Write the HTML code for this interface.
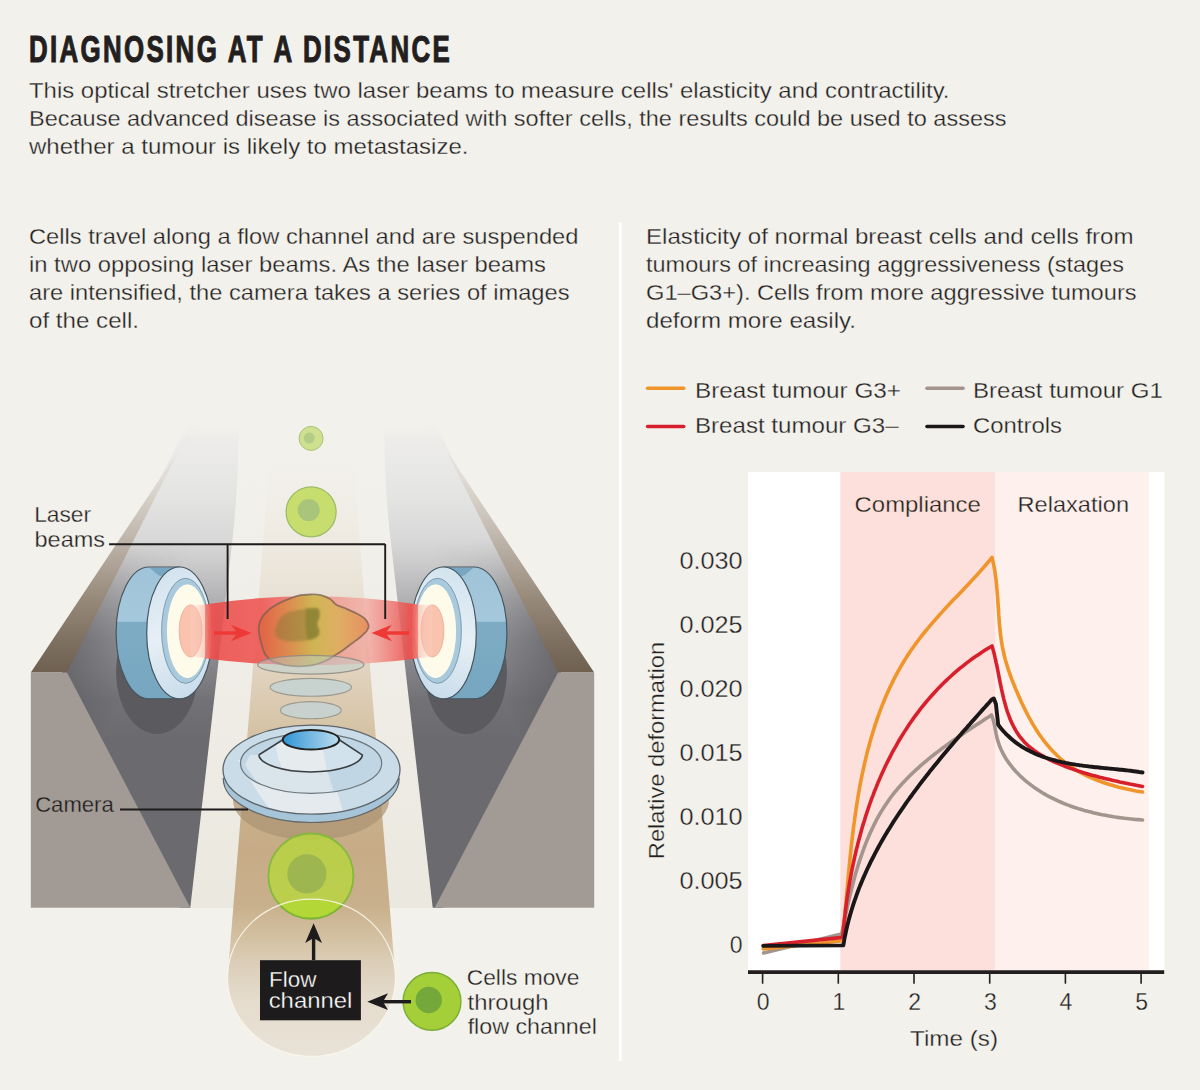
<!DOCTYPE html>
<html><head><meta charset="utf-8">
<style>
html,body{margin:0;padding:0;background:#f3f1ec;}
body{width:1200px;height:1090px;overflow:hidden;position:relative;font-family:"Liberation Sans",sans-serif;}
svg{position:absolute;left:0;top:0;}
text{font-family:"Liberation Sans",sans-serif;fill:#231f20;}
</style></head><body>
<svg width="1200" height="1090" viewBox="0 0 1200 1090">
<defs>
<filter id="blur1" x="-20%" y="-20%" width="140%" height="140%"><feGaussianBlur stdDeviation="1.2"/></filter>
<linearGradient id="gBand" x1="0" y1="672" x2="0" y2="420" gradientUnits="userSpaceOnUse">
 <stop offset="0.000" stop-color="#6f6050" stop-opacity="1"/>
 <stop offset="0.127" stop-color="#7f7161" stop-opacity="1"/>
 <stop offset="0.286" stop-color="#968979" stop-opacity="1"/>
 <stop offset="0.444" stop-color="#b1a69a" stop-opacity="1"/>
 <stop offset="0.603" stop-color="#cac2b9" stop-opacity="1"/>
 <stop offset="0.762" stop-color="#dedad4" stop-opacity="1"/>
 <stop offset="0.901" stop-color="#ebe8e4" stop-opacity="1"/>
 <stop offset="1.000" stop-color="#f3f1ec" stop-opacity="0"/>
</linearGradient>
<linearGradient id="gFace" x1="0" y1="740" x2="0" y2="420" gradientUnits="userSpaceOnUse">
 <stop offset="0.0000" stop-color="#6b6b6f" stop-opacity="1"/>
 <stop offset="0.1250" stop-color="#727276" stop-opacity="1"/>
 <stop offset="0.2500" stop-color="#89898d" stop-opacity="1"/>
 <stop offset="0.3750" stop-color="#a3a3a6" stop-opacity="1"/>
 <stop offset="0.4688" stop-color="#b8b8ba" stop-opacity="1"/>
 <stop offset="0.5625" stop-color="#cdcdce" stop-opacity="1"/>
 <stop offset="0.6250" stop-color="#d8d8d8" stop-opacity="1"/>
 <stop offset="0.7500" stop-color="#e3e3e2" stop-opacity="1"/>
 <stop offset="0.8438" stop-color="#e8e8e7" stop-opacity="1"/>
 <stop offset="0.9375" stop-color="#edecea" stop-opacity="1"/>
 <stop offset="1.0000" stop-color="#f3f1ec" stop-opacity="0"/>
</linearGradient>
<linearGradient id="gFaceDark" x1="95" y1="610" x2="150" y2="636" gradientUnits="userSpaceOnUse">
 <stop offset="0" stop-color="#4a4a4f" stop-opacity="0.45"/>
 <stop offset="1" stop-color="#4a4a4f" stop-opacity="0"/>
</linearGradient>
<linearGradient id="gFaceDarkMask" x1="0" y1="540" x2="0" y2="640" gradientUnits="userSpaceOnUse">
 <stop offset="0" stop-color="#000"/>
 <stop offset="1" stop-color="#fff"/>
</linearGradient>
<mask id="mFaceDark" maskUnits="userSpaceOnUse" x="0" y="400" width="300" height="520"><rect x="0" y="400" width="300" height="520" fill="url(#gFaceDarkMask)"/></mask>
<linearGradient id="gFloor" x1="0" y1="908" x2="0" y2="425" gradientUnits="userSpaceOnUse">
 <stop offset="0" stop-color="#ebe8df"/>
 <stop offset="0.6" stop-color="#f0eee8"/>
 <stop offset="1" stop-color="#f3f1ec"/>
</linearGradient>
<linearGradient id="gChan" x1="0" y1="1057" x2="0" y2="440" gradientUnits="userSpaceOnUse">
 <stop offset="0.000" stop-color="#e9e2d7" stop-opacity="1"/>
 <stop offset="0.092" stop-color="#e5dccd" stop-opacity="1"/>
 <stop offset="0.149" stop-color="#dccfba" stop-opacity="1"/>
 <stop offset="0.198" stop-color="#d2bf9f" stop-opacity="1"/>
 <stop offset="0.246" stop-color="#c9b08c" stop-opacity="1"/>
 <stop offset="0.335" stop-color="#c6ab86" stop-opacity="1"/>
 <stop offset="0.449" stop-color="#cbb390" stop-opacity="1"/>
 <stop offset="0.546" stop-color="#d8c6aa" stop-opacity="1"/>
 <stop offset="0.676" stop-color="#e5dacb" stop-opacity="1"/>
 <stop offset="0.838" stop-color="#eeeae1" stop-opacity="1"/>
 <stop offset="1.000" stop-color="#f3f1ec" stop-opacity="0"/>
</linearGradient>
<linearGradient id="gBeam" x1="190" y1="0" x2="433" y2="0" gradientUnits="userSpaceOnUse">
 <stop offset="0" stop-color="#f7b9a8" stop-opacity="0.3"/>
 <stop offset="0.09" stop-color="#ec4a48" stop-opacity="0.88"/>
 <stop offset="0.3" stop-color="#ee5552" stop-opacity="0.88"/>
 <stop offset="0.55" stop-color="#f28a80" stop-opacity="0.75"/>
 <stop offset="0.72" stop-color="#f3a39a" stop-opacity="0.7"/>
 <stop offset="0.91" stop-color="#ec4a48" stop-opacity="0.88"/>
 <stop offset="1" stop-color="#f7b9a8" stop-opacity="0.3"/>
</linearGradient>
<linearGradient id="gCell" x1="258" y1="0" x2="369" y2="0" gradientUnits="userSpaceOnUse">
 <stop offset="0" stop-color="#e0603f"/>
 <stop offset="0.25" stop-color="#d98a45"/>
 <stop offset="0.5" stop-color="#c7bd45"/>
 <stop offset="0.72" stop-color="#dbb055"/>
 <stop offset="1" stop-color="#e58650"/>
</linearGradient>
<linearGradient id="gSide" x1="0" y1="567" x2="0" y2="699" gradientUnits="userSpaceOnUse">
 <stop offset="0" stop-color="#9fc3d8"/>
 <stop offset="0.41" stop-color="#a6c8dc"/>
 <stop offset="0.42" stop-color="#7eacc5"/>
 <stop offset="1" stop-color="#76a6c0"/>
</linearGradient>
<linearGradient id="gFront" x1="150" y1="570" x2="205" y2="690" gradientUnits="userSpaceOnUse">
 <stop offset="0" stop-color="#d0e2ee"/>
 <stop offset="0.5" stop-color="#e6eff5"/>
 <stop offset="1" stop-color="#c9dceb"/>
</linearGradient>
<linearGradient id="gPinkCone" x1="190" y1="0" x2="215" y2="0" gradientUnits="userSpaceOnUse">
 <stop offset="0" stop-color="#fbd9cc" stop-opacity="0.2"/>
 <stop offset="1" stop-color="#f59a8c" stop-opacity="0.9"/>
</linearGradient>
<radialGradient id="gGreen" cx="0.5" cy="0.5" r="0.5">
 <stop offset="0" stop-color="#b2d24a"/>
 <stop offset="1" stop-color="#b8d84c"/>
</radialGradient>
<linearGradient id="gLensBlue" x1="283" y1="0" x2="339" y2="0" gradientUnits="userSpaceOnUse">
 <stop offset="0" stop-color="#2f95d6"/>
 <stop offset="1" stop-color="#bcdcee"/>
</linearGradient>
<linearGradient id="gMouth" x1="0" y1="899" x2="0" y2="1056" gradientUnits="userSpaceOnUse">
 <stop offset="0" stop-color="#e8e0d3" stop-opacity="0"/>
 <stop offset="0.15" stop-color="#e8e0d3" stop-opacity="0.1"/>
 <stop offset="0.4" stop-color="#e4dacb" stop-opacity="0.85"/>
 <stop offset="0.6" stop-color="#e6ddd0"/>
 <stop offset="1" stop-color="#ebe5db"/>
</linearGradient>
<g id="wallFace">
 <path d="M62,672.5 L190.5,418 L239,418 C238.5,470 236,510 232.4,540 L190.3,907.7 L180,907.7 Z" fill="url(#gFace)"/>
 <path d="M62,672.5 L190.5,418 L239,418 C238.5,470 236,510 232.4,540 L190.3,907.7 L180,907.7 Z" fill="url(#gFaceDark)" mask="url(#mFaceDark)"/>
</g>
<g id="wallOuter">
 <path d="M30.8,672.5 L67,672.5 L195.3,418 L200.3,418 Z" fill="url(#gBand)"/>
 <path d="M30.8,672.5 L67,672.5 L190.3,907.7 L30.8,907.7 Z" fill="#a29a94"/>
</g>
<g id="wallLens">
 <ellipse cx="157" cy="672" rx="41" ry="62" fill="#5b5a5e"/>
 <path d="M148.9,567 L179.5,567 L179.5,698.8 L148.9,698.8 A32.8,65.9 0 0 1 148.9,567 Z" fill="url(#gSide)" stroke="#46565f" stroke-width="1.2"/>
 <path d="M150,568 L178,568 L166,578 L158,575 Z" fill="#6f9fbb" opacity="0.8"/>
 <ellipse cx="179.5" cy="632.9" rx="32.8" ry="65.9" fill="url(#gFront)" stroke="#46565f" stroke-width="1.2"/>
 <ellipse cx="185.5" cy="630.8" rx="23.9" ry="52.5" fill="#a9c9dc" stroke="#6d8ea3" stroke-width="0.8"/>
 <ellipse cx="187.4" cy="631.2" rx="20.5" ry="47" fill="#fffbea"/>
 <ellipse cx="190.6" cy="630.9" rx="11.4" ry="26" fill="#f9c3ae" stroke="#eea48e" stroke-width="0.8"/>
 <path d="M190.6,604.9 L214,604.4 L214,658.5 L190.6,656.9 Z" fill="url(#gPinkCone)"/>
</g>
</defs>

<!-- floor between walls -->
<path d="M190.3,907.7 L232.4,540 C236,510 238.5,470 239,420 L384,420 C384.5,470 387,510 390.6,540 L432.7,907.7 Z" fill="url(#gFloor)"/>
<!-- channel -->
<path d="M271.6,440 L227.5,977.7 A84,78.6 0 0 0 395.5,977.7 L351.4,440 Z" fill="url(#gChan)"/>
<use href="#wallFace"/>
<use href="#wallFace" transform="translate(623,0) scale(-1,1)"/>
<use href="#wallOuter"/>
<use href="#wallOuter" transform="translate(625,0) scale(-1,1)"/>
<use href="#wallLens"/>
<use href="#wallLens" transform="translate(623,0) scale(-1,1)"/>

<!-- channel mouth -->

<!-- camera shadow -->
<ellipse cx="311" cy="800" rx="78" ry="40" fill="#ab9372" opacity="0.7"/>

<!-- image slices -->
<ellipse cx="310.8" cy="710.2" rx="30.4" ry="8.6" fill="#c4d2d2" fill-opacity="0.85" stroke="#9c9a8e" stroke-width="1.1"/>
<ellipse cx="310.8" cy="687.3" rx="40.8" ry="8.9" fill="#c4d2d2" fill-opacity="0.85" stroke="#9c9a8e" stroke-width="1.1"/>

<!-- beam -->
<path d="M205,604.4 Q311.5,588 418,604.4 L418,658.5 Q311.5,672 205,658.5 Z" fill="url(#gBeam)"/>

<!-- cell in beam -->
<path d="M310.7,594.5 C314.7,594.4 318.2,594.5 321.5,595.3 C324.8,596.1 327.7,597.5 330.2,599.1 C332.7,600.7 334.2,603.5 336.7,605.0 C339.2,606.5 342.1,606.9 345.3,608.3 C348.6,609.7 352.9,611.5 356.2,613.2 C359.4,614.9 362.7,616.6 364.8,618.6 C366.9,620.6 368.2,623.1 368.6,625.1 C369.0,627.1 368.4,628.5 367.0,630.5 C365.6,632.5 363.0,634.8 360.5,637.0 C358.0,639.2 354.7,641.3 351.8,643.5 C348.9,645.7 345.7,648.2 343.2,650.0 C340.7,651.8 339.6,652.5 336.7,654.3 C333.8,656.1 329.8,659.0 325.8,660.8 C321.8,662.6 317.3,664.3 312.8,665.2 C308.3,666.1 303.5,666.3 298.8,666.3 C294.1,666.3 289.2,666.1 284.7,665.2 C280.2,664.3 274.9,662.6 271.7,660.8 C268.4,659.0 266.8,656.8 265.2,654.3 C263.6,651.8 262.8,648.6 261.9,645.7 C261.0,642.8 260.3,639.9 259.8,637.0 C259.3,634.1 258.5,631.2 258.7,628.3 C258.9,625.4 259.5,622.4 260.8,619.7 C262.1,617.0 264.0,614.5 266.3,612.1 C268.6,609.8 271.6,607.6 274.9,605.6 C278.1,603.6 282.0,601.8 285.8,600.2 C289.6,598.6 293.6,596.8 297.7,595.8 C301.8,594.8 306.7,594.6 310.7,594.5 Z" fill="url(#gCell)" fill-opacity="0.8" stroke="#7a5e52" stroke-opacity="0.75" stroke-width="1.8"/>
<path d="M274.9,631.6 C275.1,629.1 276.7,624.7 278.0,622.0 C279.3,619.3 280.5,617.2 282.5,615.5 C284.5,613.8 287.3,612.4 290.0,611.5 C292.7,610.6 295.8,610.4 298.8,609.9 C301.8,609.4 304.9,608.8 308.0,608.5 C311.1,608.2 315.3,607.7 317.2,608.3 C319.1,608.9 319.1,610.5 319.5,612.0 C319.9,613.5 319.7,615.5 319.3,617.5 C318.9,619.5 317.2,621.8 317.2,624.0 C317.2,626.2 319.1,628.7 319.3,630.5 C319.5,632.3 319.2,633.7 318.5,635.0 C317.8,636.3 316.9,637.2 315.0,638.1 C313.1,639.0 309.7,640.0 307.0,640.5 C304.3,641.0 301.6,641.2 298.8,641.3 C296.0,641.4 292.7,641.5 290.0,641.3 C287.3,641.1 284.7,640.9 282.5,640.2 C280.3,639.5 278.3,638.4 277.0,637.0 C275.7,635.6 274.7,634.1 274.9,631.6 Z" fill="#8a7a38" opacity="0.5" filter="url(#blur1)"/>
<path d="M306.3,609.0 C307.4,607.0 310.2,608.4 312.0,608.3 C313.8,608.2 315.9,607.7 317.2,608.3 C318.4,608.9 319.1,610.5 319.5,612.0 C319.9,613.5 319.7,615.5 319.3,617.5 C318.9,619.5 317.2,621.8 317.2,624.0 C317.2,626.2 319.1,628.7 319.3,630.5 C319.5,632.3 319.2,633.7 318.5,635.0 C317.8,636.3 316.8,637.4 315.0,638.1 C313.2,638.9 309.5,640.9 308.0,639.5 C306.5,638.1 306.4,633.2 306.0,630.0 C305.6,626.8 305.4,623.5 305.5,620.0 C305.6,616.5 305.2,611.0 306.3,609.0 Z" fill="#6c7024" opacity="0.4" filter="url(#blur1)"/>

<!-- first slice overlaps cell -->
<ellipse cx="310.8" cy="664.8" rx="53.1" ry="9.4" fill="#b9d2d3" fill-opacity="0.45" stroke="#8f8a80" stroke-opacity="0.85" stroke-width="1.2"/>

<!-- red arrows -->
<g fill="#ee3a36" stroke="none">
 <path d="M214,631.3 L236,631.3 L231,624.7 L251.5,633 L231,641.3 L236,634.7 L214,634.7 Z"/>
 <path d="M409,631.3 L387,631.3 L392,624.7 L371.5,633 L392,641.3 L387,634.7 L409,634.7 Z"/>
</g>

<!-- camera -->
<clipPath id="cpRing"><ellipse cx="311.1" cy="763.3" rx="70.6" ry="30"/></clipPath>
<clipPath id="cpCone"><path d="M258.7,755 L282.8,739.75 L339.2,739.75 L362.5,755 A52,18 0 0 1 258.7,755 Z"/></clipPath>
<clipPath id="cpDisc"><ellipse cx="311.5" cy="769.7" rx="88.5" ry="44.5"/></clipPath>
<g>
 <ellipse cx="311.2" cy="777.4" rx="88" ry="44.5" fill="#a6c5d9"/>
 <path d="M223.5,785 A88,44.5 0 0 0 399,785 L399,790 A88,44.5 0 0 1 223.5,790 Z" fill="#b5d0e0" opacity="0"/>
 <ellipse cx="311.5" cy="769.7" rx="88.5" ry="44.5" fill="#c9dce8"/>
 <g clip-path="url(#cpDisc)">
  <path d="M238,760 C250,780 262,800 275,816 L345,818 C340,800 334,780 326,760 Z" fill="#e4eaed"/>
 </g>
 <ellipse cx="311.1" cy="763.3" rx="70.6" ry="30" fill="#c0d6e4"/>
 <g clip-path="url(#cpRing)"><path d="M245,765 C255,780 262,790 270,800 L336,800 C332,785 328,772 322,755 L250,755 Z" fill="#d9e5eb"/></g>
 <path d="M258.7,755 L282.8,739.75 L339.2,739.75 L362.5,755 A52,18 0 0 1 258.7,755 Z" fill="#d2e2ec"/>
 <path d="M276,744 L296,741 L322,741 L327,772.5 L283,769 C278,760 276,752 276,744 Z" fill="#e6ebee" clip-path="url(#cpCone)"/>
 <ellipse cx="311.5" cy="769.7" rx="88.5" ry="44.5" fill="none" stroke="#5d666c" stroke-width="1.3"/>
 <path d="M223.2,773 A88,44.5 0 0 0 399.2,773" fill="none" stroke="#5d666c" stroke-width="1.2" transform="translate(0,5)"/>
 <ellipse cx="311.1" cy="763.3" rx="70.6" ry="30" fill="none" stroke="#6c767c" stroke-width="1.2"/>
 <path d="M258.7,755 L282.8,739.75 M339.2,739.75 L362.5,755 A52,18 0 0 1 258.7,755" fill="none" stroke="#3b3f42" stroke-width="1.5"/>
 <ellipse cx="311" cy="739.75" rx="28.2" ry="9.75" fill="url(#gLensBlue)" stroke="#222" stroke-width="2"/>
</g>

<!-- green cells -->
<g>
 <circle cx="311.1" cy="438.4" r="12" fill="#cfe18f" stroke="#a9c27b" stroke-width="1"/>
 <circle cx="309.3" cy="438" r="5.5" fill="#b3cc88"/>
 <circle cx="311.1" cy="511.9" r="25" fill="#c7de6e" stroke="#9cbd6a" stroke-width="1.3"/>
 <circle cx="308.7" cy="510.1" r="11" fill="#a9c57c"/>
 <circle cx="310.9" cy="876" r="42.5" fill="#b8d640" fill-opacity="0.82" stroke="#86b83e" stroke-width="1.8"/>
 <circle cx="306.9" cy="873.8" r="19.6" fill="#93ad52" fill-opacity="0.75"/>
 <clipPath id="cpMouth"><ellipse cx="311.5" cy="977.7" rx="84" ry="78.6"/></clipPath>
 <circle cx="310.9" cy="876" r="42.5" fill="#b3d736" clip-path="url(#cpMouth)" stroke="#7fb536" stroke-width="1.8"/>
 <ellipse cx="311.5" cy="977.7" rx="84" ry="78.6" fill="none" stroke="#fbf6ea" stroke-width="1.2" opacity="0.9"/>
 <circle cx="432" cy="1001.4" r="28.9" fill="#a5cf38" stroke="#78ad36" stroke-width="1.4"/>
 <circle cx="428.75" cy="1000" r="13.2" fill="#74a83a"/>
</g>

<!-- flow channel box & arrows -->
<rect x="260" y="960.2" width="100.9" height="60.1" fill="#1d1b1b"/>
<g font-size="22.8" stroke="#1d1b1b" stroke-width="0.3">
 <text x="268.96" y="987.3" textLength="47.39" lengthAdjust="spacingAndGlyphs" style="fill:#fff">Flow</text>
 <text x="268.68" y="1008.2" textLength="83.71" lengthAdjust="spacingAndGlyphs" style="fill:#fff">channel</text>
</g>
<g fill="#1d1b1b">
 <rect x="311.9" y="935" width="3.4" height="25"/>
 <path d="M313.6,923.2 L322,943 L313.6,938 L305.2,943 Z"/>
 <rect x="378" y="1000" width="33" height="3.4"/>
 <path d="M367.3,1001.7 L388,993.3 L383,1001.7 L388,1010.1 Z"/>
</g>

<!-- leader lines -->
<g stroke="#1d1b1b" stroke-width="1.9" fill="none">
 <path d="M109.1,544.2 L385.2,544.2"/>
 <path d="M227.6,544.1 L227.6,619"/>
 <path d="M385.2,544.1 L385.2,619"/>
 <path d="M120,809.5 L248,809.5"/>
</g>
<g font-size="22.8" stroke="#f3f1ec" stroke-width="0.3">
 <text x="34.13" y="522.4" textLength="57" lengthAdjust="spacingAndGlyphs">Laser</text>
 <text x="34.48" y="547.4" textLength="70.67" lengthAdjust="spacingAndGlyphs">beams</text>
 <text x="35.13" y="811.5" stroke="#a29a94" textLength="78.62" lengthAdjust="spacingAndGlyphs">Camera</text>
 <text x="466.74" y="984.85" textLength="112.67" lengthAdjust="spacingAndGlyphs">Cells move</text>
 <text x="467.54" y="1009.6" textLength="80.91" lengthAdjust="spacingAndGlyphs">through</text>
 <text x="467.67" y="1034.3" textLength="129.18" lengthAdjust="spacingAndGlyphs">flow channel</text>
</g>

<!-- TEXT -->
<g id="txt" font-size="22.8" stroke="#f3f1ec" stroke-width="0.3">
<text transform="translate(29,62.3) scale(0.7,1)" x="0" y="0" font-size="37" font-weight="bold" stroke="#231f20" stroke-width="1.1" textLength="601" lengthAdjust="spacing">DIAGNOSING AT A DISTANCE</text>
<text x="29" y="97.5" textLength="920.5" lengthAdjust="spacingAndGlyphs">This optical stretcher uses two laser beams to measure cells' elasticity and contractility.</text>
<text x="29" y="125.8" textLength="977.5" lengthAdjust="spacingAndGlyphs">Because advanced disease is associated with softer cells, the results could be used to assess</text>
<text x="29" y="154.2" textLength="439.5" lengthAdjust="spacingAndGlyphs">whether a tumour is likely to metastasize.</text>

<text x="29" y="244" textLength="549.5" lengthAdjust="spacingAndGlyphs">Cells travel along a flow channel and are suspended</text>
<text x="29" y="271.7" textLength="517" lengthAdjust="spacingAndGlyphs">in two opposing laser beams. As the laser beams</text>
<text x="29" y="299.5" textLength="540.5" lengthAdjust="spacingAndGlyphs">are intensified, the camera takes a series of images</text>
<text x="29" y="327.5" textLength="110" lengthAdjust="spacingAndGlyphs">of the cell.</text>

<text x="646" y="244" textLength="487.6" lengthAdjust="spacingAndGlyphs">Elasticity of normal breast cells and cells from</text>
<text x="646" y="271.7" textLength="478" lengthAdjust="spacingAndGlyphs">tumours of increasing aggressiveness (stages</text>
<text x="646" y="299.5" textLength="490.6" lengthAdjust="spacingAndGlyphs">G1–G3+). Cells from more aggressive tumours</text>
<text x="646" y="327.5" textLength="210" lengthAdjust="spacingAndGlyphs">deform more easily.</text>

<line x1="647.6" y1="388.2" x2="683.7" y2="388.2" stroke="#f0952a" stroke-width="3.6" stroke-linecap="round"/>
<line x1="647.6" y1="426.5" x2="683.7" y2="426.5" stroke="#d8202d" stroke-width="3.6" stroke-linecap="round"/>
<line x1="927" y1="388.2" x2="963" y2="388.2" stroke="#a3948d" stroke-width="3.6" stroke-linecap="round"/>
<line x1="927" y1="426.5" x2="963" y2="426.5" stroke="#1b1718" stroke-width="3.6" stroke-linecap="round"/>
<text x="695" y="397.5" textLength="206" lengthAdjust="spacingAndGlyphs">Breast tumour G3+</text>
<text x="695" y="432.5" textLength="203.6" lengthAdjust="spacingAndGlyphs">Breast tumour G3–</text>
<text x="973" y="397.5" textLength="189.8" lengthAdjust="spacingAndGlyphs">Breast tumour G1</text>
<text x="973" y="432.5" textLength="89" lengthAdjust="spacingAndGlyphs">Controls</text>
</g>
<!-- divider -->
<rect x="619" y="222.5" width="2.6" height="838.5" fill="#ffffff"/>

<g id="chart">
<rect x="748" y="472" width="416.4" height="498" fill="#ffffff"/>
<rect x="840.3" y="472" width="154.7" height="498" fill="#fde0db"/>
<rect x="995" y="472" width="153.8" height="498" fill="#fdf0ed"/>
<g font-size="22.8" stroke="#f3f1ec" stroke-width="0.3">
<text x="854.6" y="512" stroke="#fde0db" textLength="126.2" lengthAdjust="spacingAndGlyphs">Compliance</text>
<text x="1017.6" y="512.2" stroke="#fdf0ed" textLength="111.4" lengthAdjust="spacingAndGlyphs">Relaxation</text>
<text x="742.6" y="953.2" text-anchor="end" font-size="23">0</text>
<text x="679.4" y="889.2" font-size="23" textLength="63.2" lengthAdjust="spacingAndGlyphs">0.005</text>
<text x="679.4" y="825.2" font-size="23" textLength="63.2" lengthAdjust="spacingAndGlyphs">0.010</text>
<text x="679.4" y="761.2" font-size="23" textLength="63.2" lengthAdjust="spacingAndGlyphs">0.015</text>
<text x="679.4" y="697.2" font-size="23" textLength="63.2" lengthAdjust="spacingAndGlyphs">0.020</text>
<text x="679.4" y="633.2" font-size="23" textLength="63.2" lengthAdjust="spacingAndGlyphs">0.025</text>
<text x="679.4" y="569.2" font-size="23" textLength="63.2" lengthAdjust="spacingAndGlyphs">0.030</text>
<text x="763.2" y="1009.6" text-anchor="middle" font-size="23">0</text>
<line x1="762.6" y1="973" x2="762.6" y2="983.7" stroke="#231f20" stroke-width="1.6"/>
<text x="838.9" y="1009.6" text-anchor="middle" font-size="23">1</text>
<line x1="838.3" y1="973" x2="838.3" y2="983.7" stroke="#231f20" stroke-width="1.6"/>
<text x="914.6" y="1009.6" text-anchor="middle" font-size="23">2</text>
<line x1="914.0" y1="973" x2="914.0" y2="983.7" stroke="#231f20" stroke-width="1.6"/>
<text x="990.3" y="1009.6" text-anchor="middle" font-size="23">3</text>
<line x1="989.7" y1="973" x2="989.7" y2="983.7" stroke="#231f20" stroke-width="1.6"/>
<text x="1066.0" y="1009.6" text-anchor="middle" font-size="23">4</text>
<line x1="1065.4" y1="973" x2="1065.4" y2="983.7" stroke="#231f20" stroke-width="1.6"/>
<text x="1141.7" y="1009.6" text-anchor="middle" font-size="23">5</text>
<line x1="1141.1" y1="973" x2="1141.1" y2="983.7" stroke="#231f20" stroke-width="1.6"/>
<text x="910" y="1045.8" textLength="88" lengthAdjust="spacingAndGlyphs">Time (s)</text>
<text transform="translate(663.5,859.2) rotate(-90)" x="0" y="0" textLength="217.4" lengthAdjust="spacingAndGlyphs">Relative deformation</text>
</g>
<line x1="748" y1="972.2" x2="1164.2" y2="972.2" stroke="#231f20" stroke-width="3.8"/>
<g fill="none" stroke-width="3.6" stroke-linejoin="round" stroke-linecap="round">
<path d="M763.6,953.0 L840.5,934.3 L842.0,932.5 L842.0,932.5 L842.6,929.5 L843.2,926.5 L843.8,923.5 L844.5,920.5 L845.1,917.5 L845.7,914.5 L846.4,911.5 L847.0,908.4 L847.7,905.4 L848.4,902.4 L849.1,899.3 L849.8,896.3 L850.5,893.2 L851.3,890.2 L852.0,887.2 L852.8,884.1 L853.6,881.1 L854.4,878.1 L855.2,875.1 L856.1,872.1 L857.0,869.1 L857.9,866.1 L858.8,863.1 L859.8,860.1 L860.8,857.2 L861.8,854.2 L862.8,851.3 L863.9,848.4 L865.0,845.5 L866.1,842.6 L867.3,839.7 L868.5,836.9 L869.7,834.0 L871.0,831.2 L872.3,828.4 L873.6,825.7 L875.0,822.9 L876.4,820.2 L877.8,817.5 L879.3,814.9 L880.9,812.2 L882.5,809.6 L884.1,807.0 L885.8,804.5 L887.5,802.0 L889.2,799.5 L891.0,797.0 L892.9,794.6 L894.8,792.2 L896.8,789.8 L898.7,787.5 L900.8,785.2 L902.8,782.9 L904.9,780.7 L907.1,778.5 L909.3,776.3 L911.5,774.1 L913.7,772.0 L916.0,769.9 L918.3,767.8 L920.6,765.7 L923.0,763.7 L925.4,761.7 L927.8,759.7 L930.2,757.7 L932.6,755.7 L935.1,753.8 L937.6,751.9 L940.1,750.0 L942.6,748.1 L945.2,746.3 L947.7,744.4 L950.3,742.6 L952.8,740.8 L955.4,739.0 L958.0,737.2 L960.6,735.4 L963.2,733.7 L965.7,731.9 L968.3,730.2 L970.9,728.5 L973.5,726.8 L976.1,725.0 L978.7,723.4 L981.3,721.7 L983.8,720.0 L986.4,718.3 L989.0,716.7 L991.5,715.0 L991.5,715.0 L992.2,717.0 L992.9,719.0 L993.5,721.1 L994.0,723.2 L994.5,725.3 L994.9,727.5 L995.3,729.7 L995.8,731.9 L996.2,734.1 L996.7,736.3 L997.2,738.5 L997.8,740.6 L998.5,742.8 L999.2,744.9 L1000.0,747.0 L1000.8,749.0 L1001.8,751.1 L1002.8,753.1 L1003.8,755.0 L1005.0,757.0 L1006.1,758.9 L1007.4,760.8 L1008.7,762.6 L1010.0,764.4 L1011.4,766.2 L1012.8,768.0 L1014.3,769.7 L1015.8,771.4 L1017.4,773.0 L1019.0,774.7 L1020.6,776.3 L1022.3,777.8 L1024.0,779.3 L1025.7,780.8 L1027.5,782.3 L1029.3,783.7 L1031.1,785.1 L1032.9,786.4 L1034.7,787.8 L1036.6,789.0 L1038.5,790.3 L1040.4,791.5 L1042.3,792.7 L1044.3,793.9 L1046.2,795.0 L1048.2,796.1 L1050.2,797.1 L1052.3,798.2 L1054.3,799.2 L1056.4,800.2 L1058.4,801.1 L1060.5,802.0 L1062.6,802.9 L1064.7,803.8 L1066.8,804.6 L1069.0,805.4 L1071.1,806.2 L1073.3,807.0 L1075.5,807.7 L1077.6,808.4 L1079.8,809.1 L1082.0,809.7 L1084.2,810.4 L1086.4,811.0 L1088.7,811.6 L1090.9,812.1 L1093.1,812.7 L1095.4,813.2 L1097.6,813.7 L1099.9,814.2 L1102.1,814.7 L1104.4,815.1 L1106.6,815.5 L1108.9,815.9 L1111.1,816.3 L1113.4,816.7 L1115.6,817.0 L1117.9,817.4 L1120.2,817.7 L1122.4,818.0 L1124.7,818.3 L1126.9,818.5 L1129.1,818.8 L1131.4,819.0 L1133.6,819.2 L1135.9,819.5 L1138.1,819.6 L1140.3,819.8 L1142.5,820.0" stroke="#a3948d"/>
<path d="M763.3,948.9 L840.5,941.0 L842.5,940.0 L842.5,940.0 L843.0,935.3 L843.4,930.7 L843.8,926.0 L844.3,921.3 L844.7,916.6 L845.1,911.8 L845.5,907.1 L846.0,902.4 L846.4,897.6 L846.8,892.9 L847.2,888.1 L847.7,883.3 L848.1,878.6 L848.5,873.8 L849.0,869.0 L849.5,864.2 L849.9,859.5 L850.4,854.7 L850.9,849.9 L851.4,845.1 L852.0,840.3 L852.5,835.6 L853.1,830.8 L853.7,826.0 L854.4,821.3 L855.0,816.5 L855.7,811.7 L856.4,807.0 L857.1,802.3 L857.9,797.5 L858.7,792.8 L859.5,788.1 L860.4,783.4 L861.3,778.7 L862.3,774.0 L863.3,769.3 L864.3,764.7 L865.4,760.0 L866.5,755.4 L867.6,750.8 L868.9,746.2 L870.1,741.6 L871.4,737.0 L872.8,732.5 L874.2,727.9 L875.7,723.4 L877.2,718.9 L878.8,714.4 L880.4,710.0 L882.1,705.6 L883.9,701.2 L885.7,696.8 L887.6,692.5 L889.6,688.1 L891.6,683.9 L893.7,679.6 L895.9,675.4 L898.2,671.2 L900.5,667.1 L902.9,663.0 L905.4,659.0 L907.9,655.0 L910.5,651.0 L913.2,647.2 L916.0,643.3 L918.9,639.5 L921.8,635.7 L924.8,632.0 L927.8,628.3 L930.9,624.7 L934.0,621.1 L937.2,617.5 L940.4,613.9 L943.6,610.4 L946.9,606.8 L950.1,603.3 L953.4,599.8 L956.8,596.4 L960.1,592.9 L963.4,589.4 L966.7,585.9 L970.0,582.4 L973.2,578.9 L976.5,575.4 L979.7,571.9 L982.8,568.3 L985.9,564.8 L989.0,561.1 L992.0,557.5 L992.0,557.5 L992.8,560.8 L993.5,564.1 L994.2,567.4 L994.8,570.8 L995.3,574.2 L995.7,577.6 L996.2,581.0 L996.5,584.4 L996.8,587.8 L997.1,591.2 L997.4,594.7 L997.7,598.1 L997.9,601.6 L998.1,605.0 L998.4,608.5 L998.6,611.9 L998.8,615.4 L999.1,618.8 L999.3,622.3 L999.6,625.7 L1000.0,629.2 L1000.3,632.6 L1000.7,636.1 L1001.2,639.5 L1001.7,642.9 L1002.3,646.3 L1003.0,649.6 L1003.7,653.0 L1004.5,656.3 L1005.3,659.7 L1006.3,663.0 L1007.3,666.3 L1008.3,669.6 L1009.5,672.9 L1010.6,676.1 L1011.8,679.4 L1013.1,682.6 L1014.4,685.8 L1015.7,689.1 L1017.1,692.3 L1018.5,695.5 L1019.9,698.7 L1021.3,701.9 L1022.8,705.1 L1024.3,708.2 L1025.9,711.3 L1027.5,714.5 L1029.1,717.5 L1030.8,720.6 L1032.5,723.6 L1034.3,726.6 L1036.1,729.5 L1038.0,732.4 L1039.9,735.2 L1041.9,738.0 L1044.0,740.8 L1046.1,743.5 L1048.3,746.1 L1050.5,748.7 L1052.8,751.2 L1055.2,753.6 L1057.6,756.0 L1060.1,758.3 L1062.7,760.5 L1065.4,762.6 L1068.1,764.7 L1070.9,766.7 L1073.7,768.6 L1076.7,770.4 L1079.7,772.1 L1082.7,773.7 L1085.8,775.3 L1089.0,776.8 L1092.2,778.2 L1095.5,779.6 L1098.7,780.8 L1102.0,782.0 L1105.4,783.2 L1108.7,784.3 L1112.1,785.3 L1115.5,786.3 L1118.9,787.2 L1122.3,788.0 L1125.7,788.8 L1129.1,789.5 L1132.5,790.2 L1135.8,790.9 L1139.2,791.5 L1142.5,792.0" stroke="#f0952a"/>
<path d="M763.3,945.5 L840.5,937.6 L842.8,936.5 L842.8,936.5 L843.1,932.8 L843.5,929.0 L843.8,925.3 L844.2,921.5 L844.6,917.7 L845.1,914.0 L845.5,910.2 L846.0,906.4 L846.5,902.6 L847.0,898.9 L847.6,895.1 L848.2,891.3 L848.8,887.5 L849.4,883.7 L850.1,880.0 L850.8,876.2 L851.5,872.4 L852.2,868.6 L853.0,864.9 L853.8,861.1 L854.6,857.4 L855.5,853.6 L856.3,849.9 L857.3,846.1 L858.2,842.4 L859.2,838.7 L860.2,835.0 L861.2,831.2 L862.2,827.5 L863.3,823.9 L864.5,820.2 L865.6,816.5 L866.8,812.9 L868.0,809.2 L869.2,805.6 L870.5,802.0 L871.8,798.4 L873.2,794.8 L874.5,791.2 L876.0,787.7 L877.4,784.2 L878.9,780.6 L880.4,777.1 L881.9,773.7 L883.5,770.2 L885.1,766.8 L886.8,763.3 L888.5,759.9 L890.2,756.6 L891.9,753.2 L893.7,749.9 L895.6,746.6 L897.4,743.3 L899.3,740.0 L901.3,736.8 L903.3,733.6 L905.3,730.4 L907.4,727.2 L909.5,724.1 L911.6,721.0 L913.8,717.9 L916.0,714.9 L918.3,711.9 L920.5,708.9 L922.9,705.9 L925.3,703.0 L927.7,700.1 L930.2,697.3 L932.7,694.5 L935.2,691.7 L937.8,688.9 L940.4,686.2 L943.1,683.5 L945.8,680.9 L948.6,678.3 L951.4,675.7 L954.2,673.2 L957.1,670.7 L960.1,668.2 L963.1,665.8 L966.1,663.4 L969.2,661.1 L972.3,658.8 L975.5,656.6 L978.7,654.4 L981.9,652.2 L985.2,650.1 L988.6,648.0 L992.0,646.0 L992.0,646.0 L992.7,648.3 L993.3,650.6 L994.0,653.0 L994.6,655.4 L995.1,657.9 L995.7,660.3 L996.2,662.8 L996.8,665.4 L997.3,667.9 L997.8,670.5 L998.3,673.1 L998.8,675.6 L999.3,678.3 L999.8,680.9 L1000.3,683.5 L1000.9,686.1 L1001.4,688.7 L1002.0,691.3 L1002.6,693.9 L1003.2,696.5 L1003.8,699.1 L1004.5,701.7 L1005.2,704.2 L1005.9,706.8 L1006.6,709.3 L1007.4,711.8 L1008.3,714.2 L1009.2,716.6 L1010.1,719.0 L1011.1,721.4 L1012.2,723.7 L1013.3,726.0 L1014.5,728.2 L1015.7,730.4 L1017.0,732.5 L1018.4,734.6 L1019.8,736.6 L1021.4,738.5 L1023.0,740.4 L1024.6,742.3 L1026.4,744.0 L1028.3,745.8 L1030.2,747.4 L1032.2,749.0 L1034.2,750.5 L1036.3,752.0 L1038.5,753.4 L1040.7,754.8 L1042.9,756.1 L1045.2,757.4 L1047.6,758.6 L1049.9,759.8 L1052.3,761.0 L1054.8,762.1 L1057.2,763.2 L1059.7,764.2 L1062.1,765.2 L1064.6,766.2 L1067.1,767.1 L1069.6,768.0 L1072.1,768.9 L1074.6,769.8 L1077.0,770.6 L1079.5,771.4 L1082.0,772.2 L1084.5,773.0 L1087.0,773.7 L1089.5,774.5 L1092.0,775.2 L1094.5,775.8 L1097.1,776.5 L1099.6,777.2 L1102.1,777.8 L1104.6,778.4 L1107.1,779.0 L1109.6,779.6 L1112.1,780.2 L1114.7,780.8 L1117.2,781.3 L1119.7,781.9 L1122.2,782.4 L1124.8,782.9 L1127.3,783.4 L1129.8,784.0 L1132.4,784.5 L1134.9,785.0 L1137.4,785.5 L1140.0,786.0 L1142.5,786.5" stroke="#d8202d"/>
<path d="M763.3,945.9 L843.3,945.4 L843.3,945.4 L843.9,942.1 L844.4,938.9 L845.1,935.6 L845.8,932.4 L846.5,929.2 L847.2,926.0 L848.0,922.8 L848.8,919.6 L849.7,916.4 L850.6,913.3 L851.5,910.2 L852.5,907.0 L853.5,903.9 L854.5,900.8 L855.6,897.8 L856.7,894.7 L857.8,891.7 L858.9,888.6 L860.1,885.6 L861.4,882.6 L862.6,879.6 L863.9,876.6 L865.2,873.7 L866.5,870.7 L867.9,867.7 L869.3,864.8 L870.7,861.9 L872.2,859.0 L873.7,856.1 L875.2,853.2 L876.7,850.3 L878.2,847.5 L879.8,844.6 L881.4,841.8 L883.0,839.0 L884.7,836.1 L886.4,833.3 L888.0,830.6 L889.8,827.8 L891.5,825.0 L893.2,822.2 L895.0,819.5 L896.8,816.7 L898.6,814.0 L900.4,811.3 L902.3,808.6 L904.2,805.9 L906.0,803.2 L907.9,800.5 L909.8,797.8 L911.8,795.2 L913.7,792.5 L915.7,789.9 L917.6,787.3 L919.6,784.6 L921.6,782.0 L923.6,779.4 L925.7,776.8 L927.7,774.2 L929.7,771.6 L931.8,769.1 L933.8,766.5 L935.9,763.9 L938.0,761.4 L940.1,758.8 L942.2,756.3 L944.3,753.8 L946.4,751.3 L948.5,748.7 L950.7,746.2 L952.8,743.7 L954.9,741.2 L957.1,738.8 L959.2,736.3 L961.4,733.8 L963.5,731.3 L965.7,728.9 L967.8,726.4 L970.0,724.0 L972.1,721.5 L974.3,719.1 L976.4,716.7 L978.6,714.2 L980.8,711.8 L982.9,709.4 L985.1,707.0 L987.2,704.6 L989.4,702.2 L991.5,699.8 L993.8,698.5 L995.9,704.0 L998.2,724.8 L998.2,724.8 L999.4,726.3 L1000.5,727.8 L1001.7,729.2 L1002.9,730.6 L1004.2,732.0 L1005.4,733.3 L1006.7,734.6 L1008.0,735.8 L1009.3,737.0 L1010.6,738.2 L1011.9,739.4 L1013.3,740.5 L1014.6,741.6 L1016.0,742.6 L1017.4,743.7 L1018.8,744.7 L1020.3,745.6 L1021.7,746.6 L1023.2,747.5 L1024.7,748.4 L1026.2,749.2 L1027.7,750.0 L1029.2,750.8 L1030.7,751.6 L1032.3,752.3 L1033.8,753.1 L1035.4,753.8 L1037.0,754.4 L1038.6,755.1 L1040.2,755.7 L1041.8,756.3 L1043.4,756.9 L1045.0,757.5 L1046.7,758.0 L1048.3,758.5 L1050.0,759.0 L1051.7,759.5 L1053.4,760.0 L1055.0,760.4 L1056.7,760.9 L1058.4,761.3 L1060.1,761.7 L1061.9,762.1 L1063.6,762.4 L1065.3,762.8 L1067.0,763.1 L1068.8,763.5 L1070.5,763.8 L1072.3,764.1 L1074.0,764.4 L1075.8,764.7 L1077.6,764.9 L1079.3,765.2 L1081.1,765.4 L1082.9,765.7 L1084.6,765.9 L1086.4,766.1 L1088.2,766.3 L1090.0,766.6 L1091.8,766.8 L1093.5,767.0 L1095.3,767.2 L1097.1,767.3 L1098.9,767.5 L1100.7,767.7 L1102.5,767.9 L1104.2,768.1 L1106.0,768.2 L1107.8,768.4 L1109.6,768.6 L1111.4,768.8 L1113.1,768.9 L1114.9,769.1 L1116.7,769.3 L1118.4,769.5 L1120.2,769.7 L1121.9,769.8 L1123.7,770.0 L1125.4,770.2 L1127.2,770.4 L1128.9,770.6 L1130.6,770.8 L1132.3,771.0 L1134.0,771.3 L1135.8,771.5 L1137.5,771.7 L1139.1,772.0 L1140.8,772.2 L1142.5,772.5" stroke="#1b1718" stroke-width="3.9"/>
</g>
</g></svg>
</body></html>
